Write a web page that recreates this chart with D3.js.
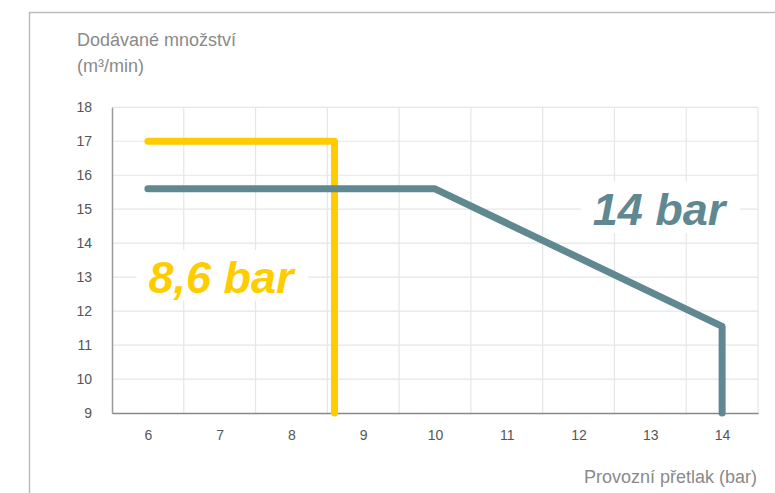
<!DOCTYPE html>
<html><head><meta charset="utf-8">
<script src="https://cdn.jsdelivr.net/npm/d3@7"></script>
<style>body{margin:0;background:#fff}svg{display:block;font-family:"Liberation Sans",Arial,sans-serif}</style>
</head><body><svg id="c" width="775" height="493"></svg>
<script>
const xTicks = [6, 7, 8, 9, 10, 11, 12, 13, 14];
const yTicks = [9, 10, 11, 12, 13, 14, 15, 16, 17, 18];
const yellowX = [6, 8.6, 8.6];
const yellowY = [17, 17, 9];
const tealX = [6, 10, 14, 14];
const tealY = [15.6, 15.6, 11.55, 9];
const yTitle = ["Dodávané množství", "(m³/min)"];
const xTitle = "Provozní přetlak (bar)";
const label8 = "8,6 bar";
const label14 = "14 bar";

const svg = d3.select("#c");
const x = d3.scaleLinear().domain([5.5, 14.5]).range([112, 758]);
const y = d3.scaleLinear().domain([9, 18]).range([413, 107.3]);

// outer frame
svg.append("path").attr("d", "M29.5,493 V12.5 H775").attr("fill", "none").attr("stroke", "#bcbcbc").attr("stroke-width", 1.5);

// grid
const g = svg.append("g");
g.selectAll(".vg").data(d3.range(6.5, 15, 1)).enter().append("line")
  .attr("x1", d => x(d)).attr("x2", d => x(d)).attr("y1", y(18)).attr("y2", y(9))
  .attr("stroke", "#e6e6e6").attr("stroke-width", 1.2);
g.selectAll(".hg").data(yTicks.slice(1)).enter().append("line")
  .attr("x1", x(5.5)).attr("x2", x(14.5)).attr("y1", d => y(d)).attr("y2", d => y(d))
  .attr("stroke", "#e6e6e6").attr("stroke-width", 1.2);

// y axis
const ya = svg.append("g").attr("transform", `translate(${x(5.5)},0)`)
  .call(d3.axisLeft(y).tickValues(yTicks).tickSize(0).tickPadding(20).tickFormat(d3.format("d")));
ya.select(".domain").attr("stroke", "#999").attr("stroke-width", 1.5);
ya.selectAll("text").attr("font-size", 14).attr("fill", "#555").attr("font-family", "Liberation Sans, Arial, sans-serif");

// x axis
const xa = svg.append("g").attr("transform", `translate(0,${y(9)})`)
  .call(d3.axisBottom(x).tickValues(xTicks).tickSize(0).tickPadding(17).tickFormat(d3.format("d")));
xa.select(".domain").attr("stroke", "#888").attr("stroke-width", 1.5);
xa.selectAll("text").attr("font-size", 14).attr("fill", "#555").attr("font-family", "Liberation Sans, Arial, sans-serif");

// titles
const yt = svg.append("text").attr("x", 77).attr("y", 46).attr("font-size", 18).attr("fill", "#8a8a8a");
yt.append("tspan").attr("x", 77).attr("dy", 0).text(yTitle[0]);
yt.append("tspan").attr("x", 77).attr("dy", 26).text(yTitle[1]);
svg.append("text").attr("x", 757).attr("y", 483).attr("text-anchor", "end")
  .attr("font-size", 18).attr("fill", "#8a8a8a").text(xTitle);

// labels with white backgrounds
function label(txt, cx, by, color) {
  const grp = svg.append("g");
  const rect = grp.append("rect").attr("fill", "#fff");
  const t = grp.append("text").attr("x", cx).attr("y", by).attr("text-anchor", "middle")
    .attr("font-size", 45).attr("font-weight", "bold").attr("font-style", "italic")
    .attr("fill", color).text(txt);
  const b = t.node().getBBox();
  rect.attr("x", b.x - 12).attr("y", b.y - 2).attr("width", b.width + 24).attr("height", b.height);
}
label(label8, x(7.02), y(12.54), "#ffcc00");
label(label14, x(13.12), y(14.54), "#5f8891");

// lines
const line = d3.line().x(d => x(d[0])).y(d => y(d[1]));
svg.append("path").datum(yellowX.map((v, i) => [v, yellowY[i]]))
  .attr("d", line).attr("fill", "none").attr("stroke", "#ffcc00").attr("stroke-width", 7)
  .attr("stroke-linecap", "round").attr("stroke-linejoin", "round");
svg.append("path").datum(tealX.map((v, i) => [v, tealY[i]]))
  .attr("d", line).attr("fill", "none").attr("stroke", "#5f8891").attr("stroke-width", 7)
  .attr("stroke-linecap", "round").attr("stroke-linejoin", "round");
</script></body></html>
